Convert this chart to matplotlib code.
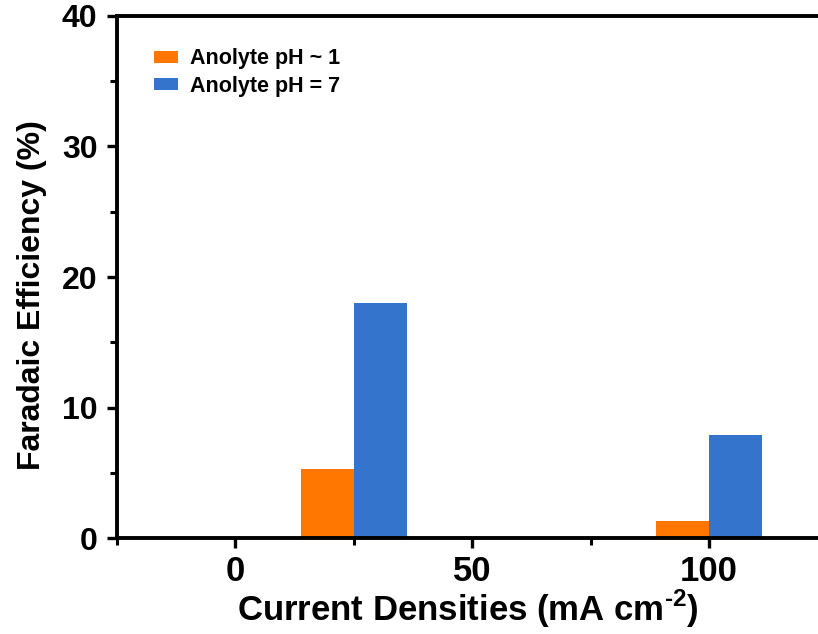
"""
Faradaic efficiency vs current density, two anolyte pH conditions.
"""

import matplotlib

matplotlib.use("Agg")
import matplotlib.pyplot as plt
import matplotlib.ticker as mticker
import numpy as np

# ── Data ─────────────────────────────────────────────────────────────────────

current_densities = [25, 100]
fe_ph1 = [5.3, 1.3]
fe_ph7 = [18.0, 7.9]
series_labels = ["Anolyte pH ~ 1", "Anolyte pH = 7"]

# ── Style ────────────────────────────────────────────────────────────────────

ORANGE = "#ff7700"
BLUE = "#3474cc"

plt.rcParams.update(
    {
        "font.family": ["Liberation Sans", "DejaVu Sans"],
        "font.weight": "bold",
        "axes.linewidth": 2.8,
        "mathtext.fontset": "custom",
        "mathtext.rm": "Liberation Sans:bold",
        "mathtext.bf": "Liberation Sans:bold",
    }
)

fig = plt.figure(figsize=(8.18, 6.34), dpi=100)
ax = fig.add_axes([0.143, 0.151, 0.857, 0.824])

bar_w = 11.25
x = np.array(current_densities, dtype=float)
ax.bar(x - bar_w / 2, fe_ph1, width=bar_w, color=ORANGE, label=series_labels[0])
ax.bar(x + bar_w / 2, fe_ph7, width=bar_w, color=BLUE, label=series_labels[1])

ax.set_xlim(-25, 123)
ax.set_ylim(0, 40)
ax.spines["right"].set_visible(False)

ax.xaxis.set_major_locator(mticker.MultipleLocator(50))
ax.xaxis.set_minor_locator(mticker.MultipleLocator(25))
ax.yaxis.set_major_locator(mticker.MultipleLocator(10))
ax.yaxis.set_minor_locator(mticker.MultipleLocator(5))

ax.tick_params(axis="both", which="major", direction="out", length=7, width=2.4)
ax.tick_params(axis="both", which="minor", direction="out", length=5, width=2.2)
ax.tick_params(axis="x", which="major", labelsize=25, pad=5)
ax.tick_params(axis="y", which="major", labelsize=23, pad=7)
for lbl in ax.get_xticklabels() + ax.get_yticklabels():
    lbl.set_fontweight("bold")

ax.set_ylabel("Faradaic Efficiency (%)", fontsize=23, fontweight="bold")
ax.yaxis.set_label_coords(-0.1, 0.465)
ax.set_xlabel(
    "Current Densities (mA cm$^{\\text{-2}}$)",
    fontsize=25,
    fontweight="bold",
    labelpad=0,
)

ax.legend(
    loc="upper left",
    bbox_to_anchor=(0.025, 0.975),
    frameon=False,
    prop={"size": 15.5, "weight": "bold"},
    handlelength=1.1,
    handleheight=0.5,
    handletextpad=0.6,
    labelspacing=0.3,
)

fig.savefig("out.png", dpi=100)
